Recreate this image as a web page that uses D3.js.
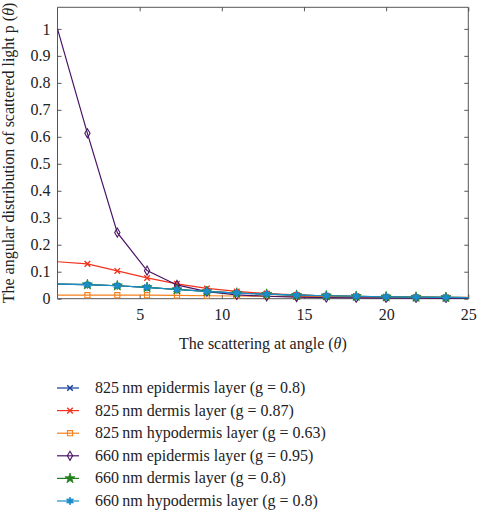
<!doctype html>
<html>
  <head>
    <script src="https://cdn.jsdelivr.net/npm/d3@7"></script>
    <style>
      body { margin: 0; background: #fff; }
      text { font-family: "Liberation Serif", "Times New Roman", serif; fill: #222; }
    </style>
  </head>
  <body>
    <svg id="chart" width="477" height="510"></svg>

    <script>
      // scattering angle samples (degrees)
      var angles = [0, 1.82, 3.64, 5.45, 7.27, 9.09, 10.91, 12.73, 14.55, 16.36, 18.18, 20, 21.82, 23.64, 25.45];

      // values
      var epi825  = [0.054, 0.052, 0.048, 0.042, 0.034, 0.027, 0.021, 0.017, 0.013, 0.011, 0.009, 0.007, 0.006, 0.005, 0.004];
      var derm825 = [0.137, 0.129, 0.103, 0.077, 0.055, 0.038, 0.027, 0.019, 0.014, 0.010, 0.008, 0.006, 0.005, 0.004, 0.003];
      var hypo825 = [0.013, 0.013, 0.013, 0.013, 0.012, 0.011, 0.010, 0.009, 0.008, 0.008, 0.007, 0.006, 0.006, 0.005, 0.005];
      var epi660  = [1.0, 0.613, 0.245, 0.104, 0.051, 0.026, 0.014, 0.009, 0.006, 0.004, 0.003, 0.002, 0.002, 0.001, 0.001];
      var derm660 = [0.054, 0.052, 0.048, 0.042, 0.034, 0.027, 0.021, 0.017, 0.013, 0.011, 0.009, 0.007, 0.006, 0.005, 0.004];
      var hypo660 = [0.054, 0.052, 0.048, 0.042, 0.034, 0.027, 0.021, 0.017, 0.013, 0.011, 0.009, 0.007, 0.006, 0.005, 0.004];

      var seriesNames = [
        "825\u2009nm epidermis layer (g = 0.8)",
        "825\u2009nm dermis layer (g = 0.87)",
        "825\u2009nm hypodermis layer (g = 0.63)",
        "660\u2009nm epidermis layer (g = 0.95)",
        "660\u2009nm dermis layer (g = 0.8)",
        "660\u2009nm hypodermis layer (g = 0.8)"
      ];
      var seriesValues = [epi825, derm825, hypo825, epi660, derm660, hypo660];
      var colors  = ["#123f9a", "#f2321e", "#f7801c", "#4a1466", "#22801e", "#1b8ccc"];
      var markers = ["x", "x", "square", "diamond", "star5", "star6"];

      var xTicks = [5, 10, 15, 20, 25];
      var yTicks = [0, 0.1, 0.2, 0.3, 0.4, 0.5, 0.6, 0.7, 0.8, 0.9, 1];

      (function() {
        var pL = 57.5, pR = 468.3, pT = 7.3, pB = 298.7;
        var fontSize = "16px";

        var x = d3.scaleLinear().domain([0, 25]).range([pL, pR]);
        var y = d3.scaleLinear().domain([0, 1.08]).range([pB, pT]);

        var svg = d3.select("#chart");

        svg.append("clipPath").attr("id", "plotclip")
          .append("rect")
            .attr("x", pL).attr("y", pT - 4)
            .attr("width", pR - pL).attr("height", pB - pT + 8);

        // axes with inward ticks, box all round
        var axisColor = "#444";
        var gx = svg.append("g").attr("transform", "translate(0," + pB + ")")
          .call(d3.axisBottom(x).tickValues(xTicks).tickSize(-4).tickPadding(10).tickFormat(d3.format("d")));
        var gy = svg.append("g").attr("transform", "translate(" + pL + ",0)")
          .call(d3.axisLeft(y).tickValues(yTicks).tickSize(-4).tickPadding(7)
            .tickFormat(function(d) { return d === 0 || d === 1 ? d : d3.format(".1f")(d); }));
        var gxt = svg.append("g").attr("transform", "translate(0," + pT + ")")
          .call(d3.axisTop(x).tickValues(xTicks).tickSize(-4).tickFormat(""));
        var gyr = svg.append("g").attr("transform", "translate(" + pR + ",0)")
          .call(d3.axisRight(y).tickValues(yTicks).tickSize(-4).tickFormat(""));

        [gx, gy, gxt, gyr].forEach(function(g) {
          g.select(".domain").attr("stroke", axisColor).attr("stroke-width", 0.9);
          g.selectAll(".tick line").attr("stroke", axisColor).attr("stroke-width", 0.9);
          g.selectAll(".tick text")
            .style("font-family", "'Liberation Serif', serif")
            .style("font-size", fontSize).attr("fill", "#222");
        });
        gx.select(".domain").attr("d", "M" + pL + ",0H" + pR);
        gxt.select(".domain").attr("d", "M" + pL + ",0H" + pR);
        gy.select(".domain").attr("d", "M0," + pT + "V" + pB);
        gyr.select(".domain").attr("d", "M0," + pT + "V" + pB);

        // marker shapes
        var symbolTypes = {
          x: d3.symbolX,
          square: d3.symbolSquare,
          diamond: d3.symbolDiamond,
          star5: d3.symbolStar
        };
        function star6(size) {
          var pts = [];
          for (var i = 0; i < 12; i++) {
            var r = i % 2 === 0 ? size : size * 0.5;
            var a = -Math.PI / 2 + i * Math.PI / 6;
            pts.push([r * Math.cos(a), r * Math.sin(a)]);
          }
          return "M" + pts.join("L") + "Z";
        }
        function markerPath(kind) {
          if (kind === "star6") return star6(4);
          var sizes = { x: 22, square: 26, diamond: 24, star5: 32 };
          return d3.symbol().type(symbolTypes[kind]).size(sizes[kind])();
        }
        function styleMarker(sel, i) {
          var k = markers[i];
          sel.attr("d", markerPath(k)).attr("stroke", colors[i]);
          if (k === "x") sel.attr("fill", "none").attr("stroke-width", 1.4);
          else if (k === "square" || k === "diamond") sel.attr("fill", "none").attr("stroke-width", 1.1);
          else sel.attr("fill", colors[i]).attr("stroke-width", 0.8);
        }

        var line = d3.line()
          .x(function(d, j) { return x(angles[j]); })
          .y(function(d) { return y(d); });

        var plot = svg.append("g").attr("clip-path", "url(#plotclip)");

        seriesValues.forEach(function(vals, i) {
          var g = plot.append("g");
          g.append("path")
            .attr("d", line(vals))
            .attr("fill", "none")
            .attr("stroke", colors[i])
            .attr("stroke-width", 1.2);
          g.selectAll("path.mk")
            .data(vals.slice(1, vals.length - 1))
            .enter()
            .append("path")
              .attr("class", "mk")
              .attr("transform", function(d, j) { return "translate(" + x(angles[j + 1]) + "," + y(d) + ")"; })
              .call(styleMarker, i);
        });

        // axis titles
        svg.append("text")
          .attr("x", (pL + pR) / 2).attr("y", 349)
          .attr("text-anchor", "middle")
          .style("font-size", fontSize)
          .html("The scattering at angle (<tspan font-style='italic'>\u03b8</tspan>)");

        svg.append("text")
          .attr("transform", "translate(14," + ((pT + pB) / 2) + ") rotate(-90)")
          .attr("text-anchor", "middle")
          .style("font-size", fontSize)
          .html("The angular distribution of scattered light p (<tspan font-style='italic'>\u03b8</tspan>)");

        // legend
        var legend = svg.append("g");
        seriesNames.forEach(function(name, i) {
          var cy = 388 + i * 22.6;
          legend.append("line")
            .attr("x1", 57).attr("x2", 79).attr("y1", cy).attr("y2", cy)
            .attr("stroke", colors[i]).attr("stroke-width", 1.2);
          legend.append("path")
            .attr("transform", "translate(70," + cy + ")")
            .call(styleMarker, i);
          legend.append("text")
            .attr("x", 95).attr("y", cy + 5)
            .style("font-size", fontSize)
            .text(name);
        });
      })();
    </script>
  </body>
</html>
